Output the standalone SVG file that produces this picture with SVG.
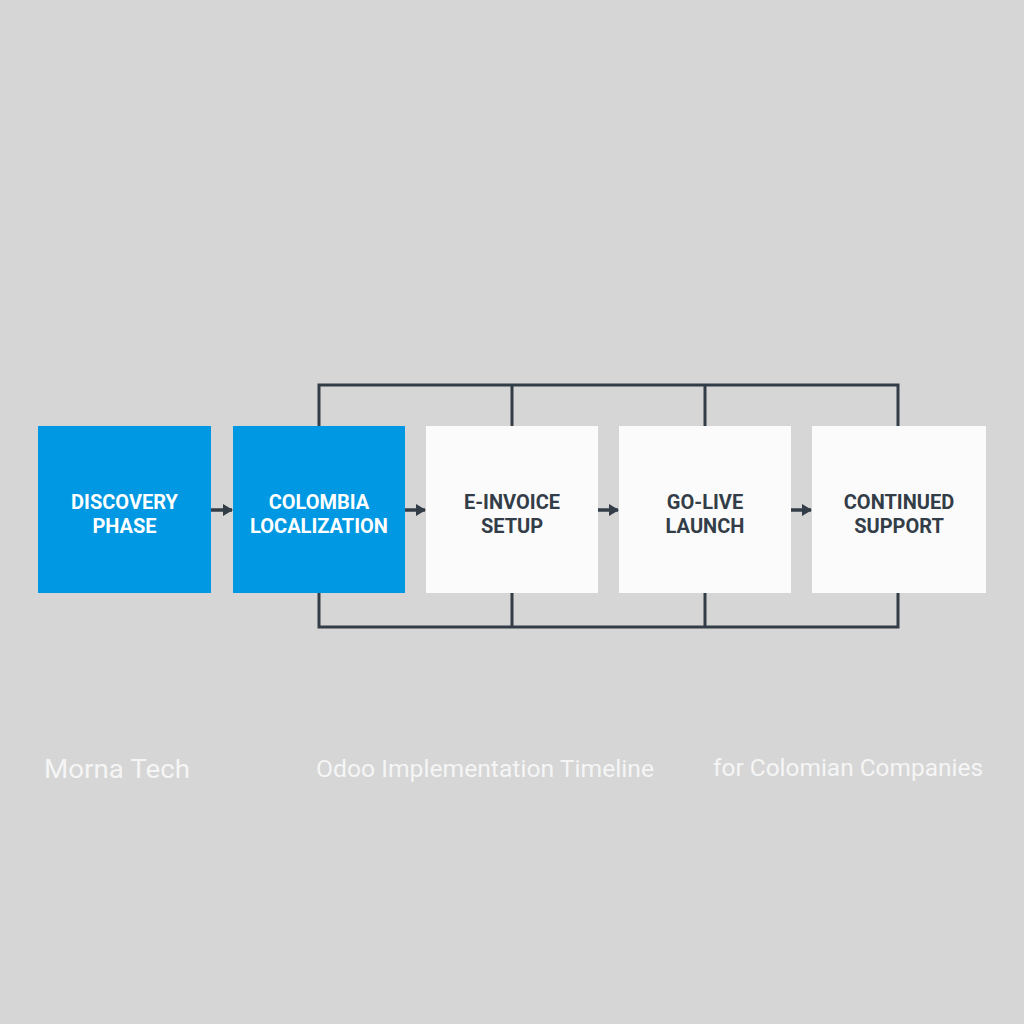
<svg xmlns="http://www.w3.org/2000/svg" width="1024" height="1024" viewBox="0 0 1024 1024">
<defs>
<marker id="ah" markerWidth="12" markerHeight="12" refX="9" refY="6" orient="auto" markerUnits="userSpaceOnUse">
<path d="M0,0 L10,6 L0,12 Z" fill="#333d47"/>
</marker>
<style>
.bg{fill:#d6d6d6}
.blue{fill:#0098e2}
.white{fill:#fbfbfb}
.lbl{font-family:Roboto,"Liberation Sans",sans-serif;font-size:20px;font-weight:bold;text-anchor:middle}
.lw{fill:#ffffff}
.ld{fill:#333d47}
.wire{fill:none;stroke:#333d47;stroke-width:3}
.arr{stroke:#333d47;stroke-width:3.5;fill:none}
.foot{font-family:Roboto,"Liberation Sans",sans-serif;fill:#f5f5f5}
</style>
</defs>
<rect class="bg" x="0" y="0" width="1024" height="1024"/>
<g id="connectors">
<path class="wire" d="M319,426 V385 H898 V426 M512,385 V426 M705,385 V426"/>
<path class="wire" d="M319,593 V627 H898 V593 M512,627 V593 M705,627 V593"/>
<line class="arr" x1="211" y1="510" x2="232" y2="510" marker-end="url(#ah)"/>
<line class="arr" x1="405" y1="510" x2="425" y2="510" marker-end="url(#ah)"/>
<line class="arr" x1="598" y1="510" x2="618" y2="510" marker-end="url(#ah)"/>
<line class="arr" x1="791" y1="510" x2="811" y2="510" marker-end="url(#ah)"/>
</g>
<g id="n1"><rect class="blue" x="38" y="426" width="173" height="167"/>
<text class="lbl lw" x="124.5" y="509">DISCOVERY</text><text class="lbl lw" x="124.5" y="533">PHASE</text></g>
<g id="n2"><rect class="blue" x="233" y="426" width="172" height="167"/>
<text class="lbl lw" x="319" y="509">COLOMBIA</text><text class="lbl lw" x="319" y="533">LOCALIZATION</text></g>
<g id="n3"><rect class="white" x="426" y="426" width="172" height="167"/>
<text class="lbl ld" x="512" y="509">E-INVOICE</text><text class="lbl ld" x="512" y="533">SETUP</text></g>
<g id="n4"><rect class="white" x="619" y="426" width="172" height="167"/>
<text class="lbl ld" x="705" y="509">GO-LIVE</text><text class="lbl ld" x="705" y="533">LAUNCH</text></g>
<g id="n5"><rect class="white" x="812" y="426" width="174" height="167"/>
<text class="lbl ld" x="899" y="509">CONTINUED</text><text class="lbl ld" x="899" y="533">SUPPORT</text></g>
<g id="footer">
<text class="foot" x="44" y="778" font-size="25" textLength="146" lengthAdjust="spacingAndGlyphs">Morna Tech</text>
<text class="foot" x="316" y="777" font-size="24" textLength="338" lengthAdjust="spacingAndGlyphs">Odoo Implementation Timeline</text>
<text class="foot" x="713" y="776" font-size="24" textLength="270" lengthAdjust="spacingAndGlyphs">for Colomian Companies</text>
</g>
</svg>
